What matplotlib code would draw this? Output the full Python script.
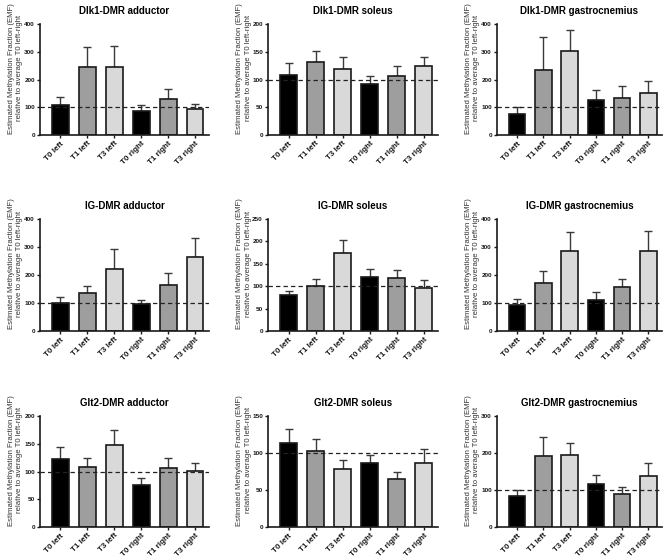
import matplotlib
matplotlib.use("Agg")
import matplotlib.pyplot as plt
import numpy as np

plt.rcParams['font.family'] = ['Liberation Sans', 'DejaVu Sans']

categories = ["T0 left", "T1 left", "T3 left", "T0 right", "T1 right", "T3 right"]
bar_colors = ["#000000", "#9e9e9e", "#d9d9d9", "#000000", "#9e9e9e", "#d9d9d9"]

titles = [
    "Dlk1-DMR adductor", "Dlk1-DMR soleus", "Dlk1-DMR gastrocnemius",
    "IG-DMR adductor", "IG-DMR soleus", "IG-DMR gastrocnemius",
    "Glt2-DMR adductor", "Glt2-DMR soleus", "Glt2-DMR gastrocnemius",
]

dlk1_adductor_mean = [108, 244, 244, 88, 130, 92]
dlk1_adductor_top = [138, 318, 322, 108, 165, 112]
dlk1_soleus_mean = [109, 131, 119, 91, 107, 124]
dlk1_soleus_top = [130, 151, 140, 106, 125, 141]
dlk1_gastro_mean = [74, 233, 304, 125, 134, 150]
dlk1_gastro_top = [100, 353, 380, 162, 175, 193]

ig_adductor_mean = [99, 134, 221, 98, 165, 263]
ig_adductor_top = [122, 159, 293, 112, 208, 332]
ig_soleus_mean = [81, 100, 175, 120, 119, 96]
ig_soleus_top = [90, 117, 203, 138, 137, 113]
ig_gastro_mean = [92, 170, 287, 111, 156, 284]
ig_gastro_top = [113, 216, 353, 139, 186, 356]

glt2_adductor_mean = [122, 108, 147, 75, 107, 101]
glt2_adductor_top = [144, 124, 175, 89, 125, 116]
glt2_soleus_mean = [113, 103, 78, 86, 65, 87]
glt2_soleus_top = [132, 119, 90, 97, 75, 105]
glt2_gastro_mean = [85, 191, 195, 116, 89, 138]
glt2_gastro_top = [101, 244, 227, 141, 108, 174]

means = [dlk1_adductor_mean, dlk1_soleus_mean, dlk1_gastro_mean,
         ig_adductor_mean, ig_soleus_mean, ig_gastro_mean,
         glt2_adductor_mean, glt2_soleus_mean, glt2_gastro_mean]
tops = [dlk1_adductor_top, dlk1_soleus_top, dlk1_gastro_top,
        ig_adductor_top, ig_soleus_top, ig_gastro_top,
        glt2_adductor_top, glt2_soleus_top, glt2_gastro_top]
ymax = [400, 200, 400, 400, 250, 400, 200, 150, 300]
ystep = [100, 50, 100, 100, 50, 100, 50, 50, 100]

W, H = 669, 560
fig = plt.figure(figsize=(W / 100, H / 100), dpi=100)

cols = [(40, 209), (268, 438), (497, 662)]
rows = [(24, 135), (219, 331), (416, 527)]

ylabel = "Estimated Methylation Fraction (EMF)\nrelative to average T0 left-right"

for i in range(9):
    r, c = divmod(i, 3)
    x0, x1 = cols[c]
    y0, y1 = rows[r]
    ax = fig.add_axes([x0 / W, 1 - y1 / H, (x1 - x0) / W, (y1 - y0) / H])
    x = np.arange(len(categories))
    m = np.array(means[i])
    t = np.array(tops[i])
    ax.errorbar(x, m, yerr=[np.zeros_like(m), t - m], fmt='none', ecolor='#3a3a3a',
                elinewidth=1.0, capsize=3.2, capthick=1.0, zorder=1)
    ax.bar(x, m, width=0.63, color=bar_colors, edgecolor='#1a1a1a', linewidth=1.2, zorder=2)
    ax.axhline(100, color='#222222', linestyle=(0, (3.5, 2.5)), linewidth=0.9, zorder=3)
    ax.set_xlim(-0.76, 5.52)
    ax.set_ylim(0, ymax[i])
    ax.set_yticks(np.arange(0, ymax[i] + 1, ystep[i]))
    ax.set_xticks(x)
    ax.set_xticklabels(categories, rotation=45, ha='right', rotation_mode='anchor',
                       fontsize=5.8, fontweight='bold')
    for lab in ax.get_yticklabels():
        lab.set_fontsize(4.6)
        lab.set_fontweight('bold')
    for s in ['top', 'right']:
        ax.spines[s].set_visible(False)
    for s in ['left', 'bottom']:
        ax.spines[s].set_linewidth(1.2)
        ax.spines[s].set_color('#1a1a1a')
    ax.tick_params(axis='both', length=2.5, width=1.0, pad=1.2, colors='#1a1a1a')
    ax.set_title(titles[i], fontsize=7, fontweight='bold', pad=7)
    ax.set_ylabel(ylabel, fontsize=5.6, linespacing=1.35, color='#333333')
    ax.yaxis.set_label_coords(-16.5 / (x1 - x0), 0.6)

fig.savefig("out.png", dpi=100)
